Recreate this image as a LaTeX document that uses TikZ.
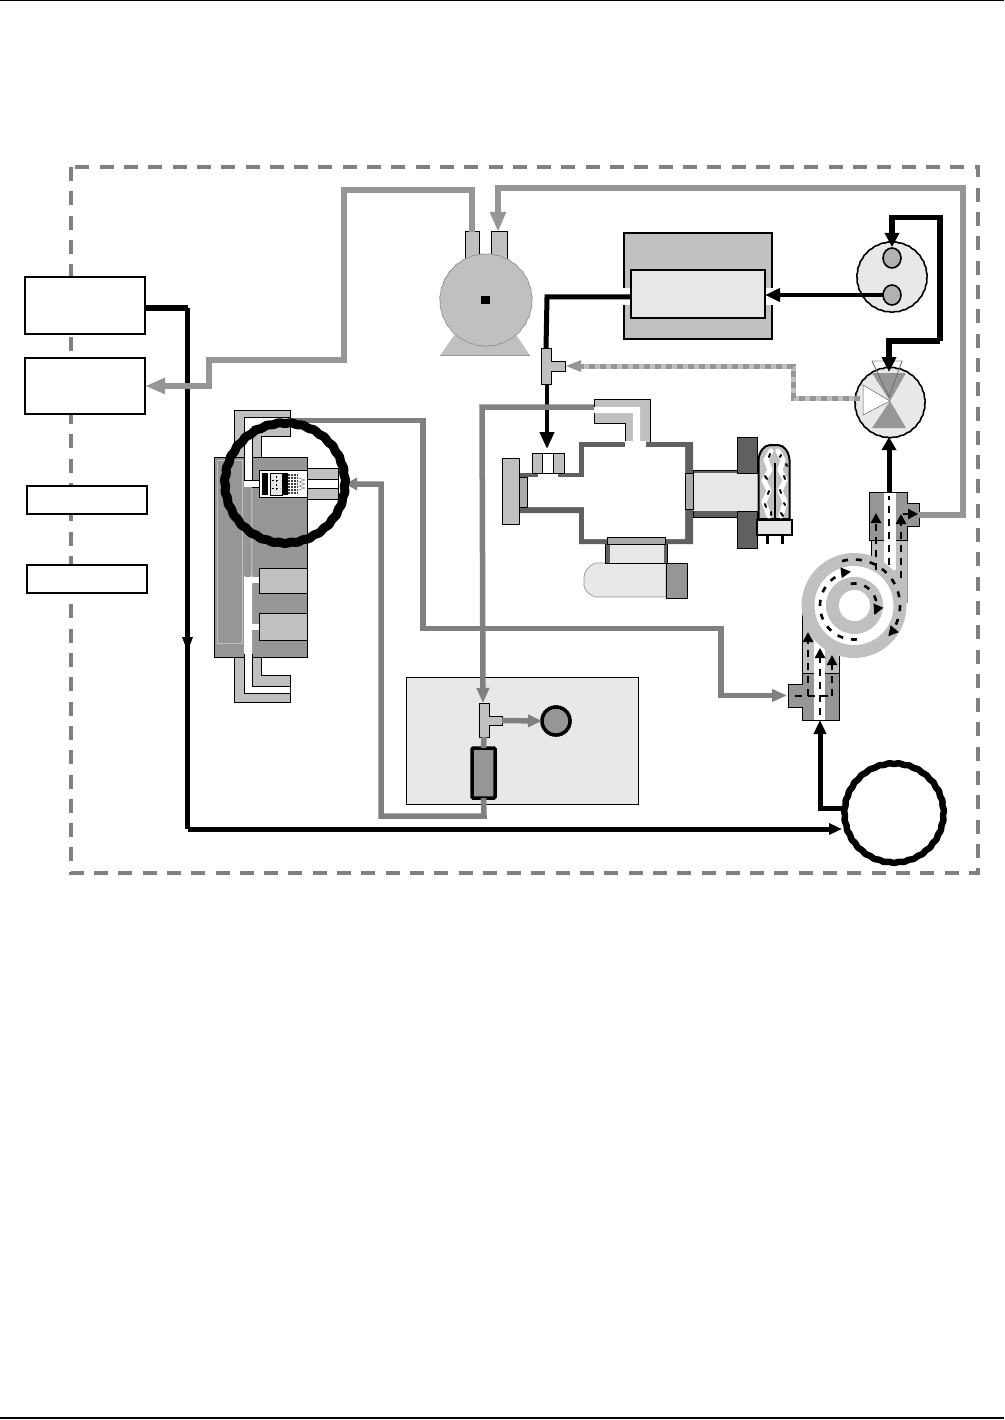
\documentclass[tikz,border=0pt]{standalone}
\usetikzlibrary{arrows.meta,shapes.geometric}
\definecolor{cLight}{HTML}{C0C0C0}
\definecolor{cPale}{HTML}{E8E8E8}
\definecolor{cMid}{HTML}{969696}
\definecolor{cDark}{HTML}{606060}
\definecolor{cPipe}{HTML}{808080}
\definecolor{cHatch}{HTML}{ABABAB}
\newcommand{\wobring}[5]{\path[#5] plot[domain=0:360,samples=241] ({#1+(#3+#4*sin(31*\x))*cos(\x)},{#2-(#3+#4*sin(31*\x))*sin(\x)}) -- cycle;}
\tikzset{
  blockbox/.style={draw=black,line width=#1,fill=white,rectangle,inner sep=0pt,outer sep=0pt},
  blockbox/.default=2pt,
  solid box/.style={draw=black,line width=1pt,fill=#1,rectangle,inner sep=0pt,outer sep=0pt},
  round anchor/.style={circle,inner sep=0pt,outer sep=0pt},
  blackpipe/.style={draw=black,line width=#1,line join=miter},
  blackpipe/.default=4.5pt,
  graypipe/.style={draw=cMid,line width=6pt,line join=miter},
  darkpipe/.style={draw=cPipe,line width=5.5pt,line join=miter},
  bigtip/.style={-{Triangle[length=20pt,width=15pt]}},
  flowdash/.style={draw=black,line width=2.6pt,dash pattern=on 7pt off 6pt},
  arcdash/.style={draw=black,line width=2.6pt,dash pattern=on 6pt off 8pt},
  flowtip/.style={-{Triangle[length=10pt,width=10pt]}},
}
\begin{document}
\begin{tikzpicture}[x=1pt,y=-1pt]
\useasboundingbox (0,0) rectangle (1004,1420);
\fill[white] (0,0) rectangle (1004,1420);
\draw[line width=1.2pt] (0,0.6) -- (1004,0.6);
\draw[line width=1.2pt] (0,1418) -- (1004,1418);
\draw[draw=cPipe,line width=3.4pt,dash pattern=on 14pt off 10.3pt] (71,167) rectangle (978,873);

% ---- left-hand boxes
\node[blockbox,minimum width=120pt,minimum height=57pt] (boxa) at (85,305.5) {};
\node[blockbox,minimum width=120pt,minimum height=56pt] (boxb) at (85,386) {};
\node[blockbox=1.4pt,minimum width=120pt,minimum height=28pt] (boxc) at (87,500) {};
\node[blockbox,minimum width=120pt,minimum height=28pt] (boxd) at (87,579) {};

% ---- pump at the top
\fill[cLight] (440,355.5) -- (530,355.5) -- (486,290) -- cycle;
\draw[cMid,line width=.8pt] (440,355.5) -- (530,355.5);
\node[solid box=cLight,minimum width=14pt,minimum height=28pt] (portl) at (472,246) {};
\node[solid box=cLight,minimum width=16pt,minimum height=28pt] (portr) at (499,246) {};
\node[round anchor,minimum size=92pt] (pump) at (486,300) {};
\wobring{486}{300}{46}{.3}{draw=cMid,line width=.8pt,fill=cLight}
\node[fill=black,minimum size=8.5pt,inner sep=0pt] (shaft) at (485.5,300) {};

% ---- oven
\node[solid box=cLight,minimum width=148pt,minimum height=106pt,line width=1.5pt] (oven) at (698,286) {};
\fill[white] (623,288) rectangle (632,305);
\fill[white] (764,288) rectangle (773,305);
\node[solid box=cPale,minimum width=134pt,minimum height=48pt,line width=1.6pt] (ovenin) at (698,294) {};

% ---- switching valves
\node[round anchor,minimum size=70pt] (vala) at (892,277) {};
\wobring{892}{277}{35}{.25}{draw=black,line width=1.6pt,fill=cPale}
\node[draw=black,line width=1.6pt,fill=cLight!92!black,ellipse,inner sep=0pt,outer sep=0pt,minimum width=18pt,minimum height=20pt] (valat) at (892,258) {};
\node[draw=black,line width=1.6pt,fill=cLight!92!black,ellipse,inner sep=0pt,outer sep=0pt,minimum width=18pt,minimum height=20pt] (valab) at (892,295) {};
\filldraw[draw=cMid,line width=.6pt,fill=white] (872,361) -- (902,361) -- (890,397) -- cycle;
\node[round anchor,minimum size=70pt] (valb) at (890,402.5) {};
\wobring{890}{402.5}{35}{.25}{draw=black,line width=1.6pt,fill=cPale}
\fill[cMid] (872,373) -- (906,373) -- (890,401) -- cycle;
\fill[cMid] (872,428) -- (906,428) -- (890,401) -- cycle;
\filldraw[draw=cDark,line width=.5pt,fill=white] (863,385) -- (890,401) -- (863,415) -- cycle;
\draw[cDark,line width=.6pt] (872,361) -- (889,397) -- (902,361);

% ---- small tees
\filldraw[draw=black,line width=1pt,fill=cLight] (541,348) -- (551,348) -- (551,361) -- (565,361) -- (565,371) -- (551,371) -- (551,384) -- (541,384) -- cycle;
\coordinate (teeaT) at (546,348);
\coordinate (teeaB) at (547,384);
\coordinate (teeaR) at (566,366);

% ---- panel with tee, gauge and filter
\node[solid box=cPale,minimum width=232pt,minimum height=127pt] (panel) at (522,740.5) {};
\filldraw[draw=black,line width=1pt,fill=cLight] (479,703) -- (489,703) -- (489,716) -- (502,716) -- (502,725) -- (489,725) -- (489,737) -- (479,737) -- cycle;
\coordinate (teebT) at (483,703);
\coordinate (teebB) at (484,737);
\coordinate (teebR) at (502,720.5);
\node[round anchor,minimum size=28pt] (gauge) at (556,721) {};
\wobring{556}{721}{14}{.15}{draw=black,line width=3.5pt,fill=cMid}
\node[draw=black,line width=3.5pt,rounded corners=1pt,fill=cMid,inner sep=0pt,outer sep=0pt,minimum width=23pt,minimum height=50pt] (filter) at (483.5,773) {};

% ---- left manifold assembly
\filldraw[draw=black,line width=1pt,fill=cLight] (234,410) -- (290,410) -- (290,436) -- (261,436) -- (261,460) -- (234,460) -- cycle;
\filldraw[draw=black,line width=1pt,fill=cLight] (234,654) -- (261,654) -- (261,675) -- (290,675) -- (290,702) -- (234,702) -- cycle;
\filldraw[draw=black,line width=1pt,fill=cMid] (214,457) rectangle (307,657);
\draw[cLight,line width=1pt] (217,460) rectangle (242,643);
\fill[white] (244,417) -- (290,417) -- (290,426) -- (252,426) -- (252,686) -- (290,686) -- (290,693) -- (244,693) -- cycle;
\draw[black,line width=.8pt] (290,426) -- (252,426) -- (252,480);
\draw[black,line width=.8pt] (244,417) -- (290,417);
\draw[black,line width=.8pt] (244,417) -- (244,480);
\draw[black,line width=.8pt] (244,654) -- (244,693) -- (290,693);
\draw[black,line width=.8pt] (252,654) -- (252,686) -- (290,686);
\fill[cMid,rounded corners=2pt] (244,485) rectangle (251.5,577);
\fill[white] (244,480) rectangle (260,487);
\draw[black,line width=.8pt] (244,480) -- (259,480);
\draw[black,line width=.8pt] (252,487) -- (259,487);
\node[solid box=cLight,minimum width=48pt,minimum height=25pt] (vblocka) at (283,580.5) {};
\node[solid box=cLight,minimum width=48pt,minimum height=27pt] (vblockb) at (283,626.5) {};
\fill[white] (252,577) rectangle (259,583);
\fill[white] (252,624) rectangle (259,630);
\node[solid box=white,minimum width=48pt,minimum height=27pt] (vtop) at (283,483.5) {};
\fill[black] (262,473) rectangle (268,495);
\filldraw[draw=black,line width=.8pt,fill=cPale] (270,473) rectangle (282,495);
\draw[black,line width=.6pt,dash pattern=on 2pt off 2pt] (272,480) -- (280,480) (276,476) -- (276,492) (272,488) -- (280,488);
\fill[black] (283,473) rectangle (288,495);
\draw[black!75,line width=1.2pt,dash pattern=on 1.5pt off 1.5pt] (289,474) -- (289,495) (292,474) -- (292,495) (295,474) -- (295,495) (297.5,474) -- (297.5,495);
\draw[cMid,line width=.7pt] (299,478) -- (305,480) -- (299,482) -- (305,484) -- (299,486) -- (305,488) -- (299,490);
\node[solid box=cLight,minimum width=31pt,minimum height=31pt] (vtube) at (322.5,483.5) {};
\filldraw[draw=black,line width=.8pt,fill=white] (307,479) rectangle (338,488);

% ---- optical bench
\filldraw[draw=black,line width=1pt,fill=cLight] (594,399) -- (650,399) -- (650,442) -- (625,442) -- (625,423) -- (594,423) -- cycle;
\fill[white] (594,407) -- (640,407) -- (640,444) -- (633,444) -- (633,413) -- (594,413) -- cycle;
\fill[cDark] (519,473) -- (579,473) -- (579,442) -- (693,442) -- (693,544) -- (579,544) -- (579,513) -- (519,513) -- cycle;
\fill[white] (527,477) -- (584,477) -- (584,447) -- (685,447) -- (685,539) -- (584,539) -- (584,507) -- (527,507) -- cycle;
\fill[white] (625,441) rectangle (646,448);
\fill[white] (538,472) rectangle (558,478);
\node[solid box=cLight,minimum width=17pt,minimum height=66pt] (leftplate) at (510.5,491) {};
\node[solid box=cHatch,minimum width=8pt,minimum height=30pt,line width=.6pt] (winl) at (523,492) {};
\node[solid box=cLight,minimum width=32pt,minimum height=20pt] (topport) at (548,463) {};
\filldraw[draw=black,line width=.6pt,fill=white] (542,453) rectangle (553,473);
\filldraw[draw=black,line width=1pt,fill=cDark] (693,470) rectangle (737,517);
\fill[cPale] (693,473) rectangle (757,511);
\node[solid box=cHatch,minimum width=8pt,minimum height=36pt,line width=.6pt] (winr) at (689,491) {};
\filldraw[draw=black,line width=1pt,fill=cDark] (737,437) rectangle (757,473);
\filldraw[draw=black,line width=1pt,fill=cDark] (737,511) rectangle (757,548);
% lamp
\filldraw[draw=black,line width=2pt,fill=cLight] (758.5,519) -- (758.5,460) .. controls (759,452) and (764,445) .. (770,445) -- (778,445) .. controls (784,445) and (789,452) .. (789.5,460) -- (789.5,519) -- cycle;
\draw[white,line width=5pt,line join=round,line cap=round] (771,451) -- (766,460) -- (770,470) -- (764,480) -- (769,491) -- (764,502) -- (769,516);
\draw[white,line width=5pt,line join=round,line cap=round] (778,451) -- (783,460) -- (780,470) -- (785,480) -- (780,491) -- (785,502) -- (781,516);
\draw[black,line width=1.8pt] (775,463) -- (775,519);
\draw[black,line width=2pt,line cap=round] (769,457) -- (770,454) (765,476) -- (767,479) (769,491) -- (768,494) (765,504) -- (766,507) (771,512) -- (771,515) (781,455) -- (780,457) (786,464) -- (787,466) (784,476) -- (785,479) (780,490) -- (781,493) (784,503) -- (785,505) (781,513) -- (783,516);
\filldraw[draw=black,line width=2pt,fill=cPale] (757,520) rectangle (792,534.5);
\fill[black] (766,535) rectangle (768.5,544);
\fill[black] (781,535) rectangle (783.5,544);
% detector
\filldraw[draw=cMid,line width=.7pt,fill=cPale] (666,563) -- (596,563) .. controls (588,565) and (584,572) .. (584,578) -- (584,586) .. controls (585,591) and (590,596) .. (596,597) -- (666,597) -- cycle;
\fill[cPale] (608,544) rectangle (665,563);
\fill[cDark] (605.5,544) rectangle (609.5,563);
\fill[cDark] (663.5,544) rectangle (667.5,563);
\draw[black,line width=1pt] (605.5,544) -- (605.5,563) -- (667.5,563) -- (667.5,544);
\node[solid box=cHatch,minimum width=58pt,minimum height=7pt,line width=.8pt] (winb) at (636.5,540.5) {};
\node[solid box=cMid,minimum width=21pt,minimum height=35pt] (detend) at (676.5,580.5) {};

% ---- pump rings and manifolds, right-hand side
\fill[cLight] (871,535) rectangle (907,603);
\draw[black,line width=.8pt] (871,540) -- (871,565);
\draw[cMid,line width=.8pt] (907,540) -- (907,603);
\fill[cLight] (802,610) rectangle (839,680);
\draw[black,line width=.8pt] (802,613) -- (802,673);
\draw[black,line width=.8pt] (839,650) -- (839,673);
\filldraw[draw=black,line width=1pt,fill=cMid] (869,492) -- (907,492) -- (907,503) -- (919,503) -- (919,526) -- (907,526) -- (907,540) -- (869,540) -- cycle;
\filldraw[draw=black,line width=1pt,fill=cMid] (802,673) -- (839,673) -- (839,720) -- (802,720) -- (802,707) -- (788,707) -- (788,684) -- (802,684) -- cycle;
\fill[white] (884,493) rectangle (896,570);
\fill[white] (814,640) rectangle (825,719.5);
\node[circle,draw=none,fill=cLight,minimum size=105pt,inner sep=0pt,outer sep=0pt] (ringout) at (854,605.5) {};
\node[circle,draw=none,fill=white,minimum size=79pt,inner sep=0pt,outer sep=0pt] (ringmid) at (854,605.5) {};
\node[circle,draw=none,fill=cLight,minimum size=57pt,inner sep=0pt,outer sep=0pt] (ringin) at (854.5,605.5) {};
\node[circle,draw=none,fill=white,minimum size=31pt,inner sep=0pt,outer sep=0pt] (ringhole) at (854.5,605.5) {};

% ---- flow inside rings
\draw[arcdash,flowtip] plot[domain=105:-42,samples=50] ({854+46*cos(\x)},{605.5-46*sin(\x)});
\draw[arcdash,flowtip] plot[domain=-85:-265,samples=50] ({854+34*cos(\x)},{605.5-34*sin(\x)});
\draw[arcdash,flowtip] plot[domain=100:-25,samples=40] ({854.5+22*cos(\x)},{605.5-22*sin(\x)});
% upper manifold flows
\coordinate (ua) at (876,570);
\coordinate (ub) at (876,513);
\coordinate (uc) at (901,578);
\coordinate (ud) at (901,514);
\coordinate (ue) at (903,514);
\coordinate (uf) at (918,514);
\coordinate (ug) at (889,565);
\coordinate (uh) at (889,496);
\draw[flowdash,flowtip] (ua) -- (ub);
\draw[flowdash,flowtip] (uc) -- (ud);
\draw[flowdash,flowtip] (ue) -- (uf);
\draw[flowdash] (ug) -- (uh);
% lower manifold flows
\coordinate (la) at (808,696);
\coordinate (lb) at (808,632);
\coordinate (lc) at (832,696);
\coordinate (ld) at (832,655);
\coordinate (le) at (820,715);
\coordinate (lf) at (820,648);
\coordinate (lg) at (795,696);
\coordinate (lh) at (832,696);
\draw[flowdash,flowtip] (la) -- (lb);
\draw[flowdash,flowtip] (lc) -- (ld);
\draw[flowdash,flowtip] (le) -- (lf);
\draw[flowdash] (lg) -- (lh);

% ---- connectors
\coordinate (ja) at (187.5,308);
\coordinate (jb) at (187.5,829);
\coordinate (jc) at (187.5,652);
\node[round anchor,minimum size=100pt] (pumpb) at (894,813) {};
\wobring{894}{813}{49.5}{.4}{draw=black,line width=6.5pt,fill=white}
\draw[blackpipe=6pt] (boxa.east|-ja) -- (ja);
\draw[blackpipe=4.5pt] (ja) -- (jb);
\coordinate (jd) at (842,829);
\draw[black,line width=5pt,line join=miter,-{Triangle[length=13pt,width=11pt]}] (jb) -- (jd);
\draw[black,line width=3pt,-{Triangle[length=15pt,width=10pt]}] (ja) -- (jc);

\coordinate (ga) at (472,190);
\coordinate (gb) at (344,190);
\coordinate (gc) at (344,360);
\coordinate (gd) at (209,360);
\coordinate (ge) at (209,386);
\draw[graypipe,bigtip] (portl.north) -- (ga) -- (gb) -- (gc) -- (gd) -- (ge) -- (boxb.east);
\coordinate (gf) at (963,515);
\coordinate (gg) at (963,188);
\coordinate (gh) at (498,188);
\coordinate (gi) at (919,515);
\draw[graypipe,bigtip] (gi) -- (gf) -- (gg) -- (gh) -- (gh|-portr.north);
\coordinate (ka) at (547,297);
\draw[blackpipe=5pt] (ovenin.west|-ka) -- (ka) -- (teeaT);
\coordinate (kb) at (547,449);
\draw[black,line width=4pt,-{Triangle[length=17pt,width=14pt]}] (teeaB) -- (kb);
\draw[black,line width=4.5pt,-{Triangle[length=15pt,width=13pt]}] (valab.west) -- (ovenin.east|-valab.west);
\coordinate (ma) at (892,217.5);
\coordinate (mb) at (940,217.5);
\coordinate (mc) at (940,341);
\coordinate (md) at (889,341);
\coordinate (me) at (889,372);
\coordinate (mf) at (892,247);
\draw[black,line width=5.5pt,line join=miter,-{Triangle[length=15pt,width=14pt]}] (mc) -- (md) -- (me);
\draw[black,line width=5.5pt,line join=miter,-{Triangle[length=14pt,width=14pt]}] (mc) -- (mb) -- (ma) -- (mf);
\coordinate (mg) at (889,492);
\coordinate (mh) at (889,437);
\draw[black,line width=5pt,-{Triangle[length=13pt,width=14pt]}] (mg) -- (mh);
\coordinate (na) at (820,808);
\coordinate (nb) at (820,720);
\coordinate (nc) at (845,808);
\draw[black,line width=5pt,line join=miter,-{Triangle[length=14pt,width=12pt]}] (nc) -- (na) -- (nb);

\coordinate (pa) at (793,398);
\coordinate (pb) at (793,366);
\coordinate (pc) at (860,398);
\coordinate (pd) at (580,366);
\draw[cLight,line width=5pt] (pc) -- (pa) -- (pb) -- (pd);
\draw[cMid,line width=5pt,dash pattern=on 6pt off 5pt] (pc) -- (pa) -- (pb) -- (pd);
\fill[cMid] (566,366) -- (581,360) -- (581,372) -- cycle;

\coordinate (qa) at (482,407);
\coordinate (qb) at (594,407);
\draw[darkpipe,-{Triangle[length=15pt,width=12pt]}] (qb) -- (qa) -- (teebT);
\draw[darkpipe,-{Triangle[length=14pt,width=12pt]}] (teebR) -- (gauge.west);
\draw[darkpipe] (teebB) -- (filter.north);
\coordinate (ra) at (484,816);
\coordinate (rb) at (381,816);
\coordinate (rc) at (381,484);
\coordinate (rd) at (345,484);
\draw[darkpipe,-{Triangle[length=12pt,width=12pt]}] (filter.south) -- (ra) -- (rb) -- (rc) -- (rd);
\coordinate (sz) at (290,420.5);
\coordinate (sa) at (423,420.5);
\coordinate (sb) at (423,628.5);
\coordinate (sc) at (721,628.5);
\coordinate (sd) at (721,695.5);
\coordinate (se) at (787,695.5);
\draw[darkpipe,-{Triangle[length=15pt,width=12pt]}] (sz) -- (sa) -- (sb) -- (sc) -- (sd) -- (se);

\node[round anchor,minimum size=121pt] (ring) at (285,483) {};
\wobring{285}{483}{60}{.5}{draw=black,line width=9pt}
\end{tikzpicture}
\end{document}
